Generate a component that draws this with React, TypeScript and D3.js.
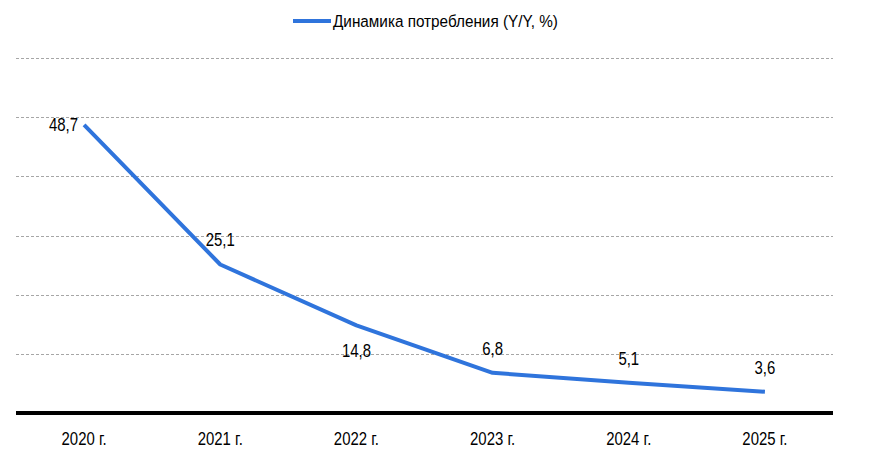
import React, { useEffect, useRef } from 'react';
import * as d3 from 'd3';

const years = ['2020 г.', '2021 г.', '2022 г.', '2023 г.', '2024 г.', '2025 г.'];
const values = [48.7, 25.1, 14.8, 6.8, 5.1, 3.6];
const labelPos = ['left', 'above', 'below', 'above', 'above', 'above'];
const gridTicks = [10, 20, 30, 40, 50, 60];
const seriesName = 'Динамика потребления (Y/Y, %)';

const W = 873;
const H = 457;
const FONT = '"Liberation Sans Narrow", "Arial Narrow", "Liberation Sans", Arial, sans-serif';
const BLUE = '#2f74dc';
const NARROW = 0.83; // no narrow font installed, squeeze horizontally

export default function App() {
  const svgRef = useRef<SVGSVGElement>(null);

  useEffect(() => {
    if (!svgRef.current) return;
    const margin = { top: 58, right: 40, bottom: 44, left: 16 };

    const x = d3.scaleBand<string>().domain(years).range([margin.left, W - margin.right]);
    const y = d3.scaleLinear().domain([0, 60]).range([H - margin.bottom, margin.top]);

    const svg = d3.select(svgRef.current);
    svg.selectAll('*').remove();

    // grid lines
    svg.append('g').selectAll('line')
      .data(gridTicks)
      .join('line')
      .attr('x1', margin.left).attr('x2', W - margin.right)
      .attr('y1', d => Math.round(y(d)) + 0.5).attr('y2', d => Math.round(y(d)) + 0.5)
      .attr('stroke', '#a6a6a6').attr('stroke-width', 1)
      .attr('stroke-dasharray', '3,2');

    // baseline
    svg.append('line')
      .attr('x1', margin.left).attr('x2', W - margin.right)
      .attr('y1', y(0)).attr('y2', y(0))
      .attr('stroke', '#000').attr('stroke-width', 4);

    const narrowText = (g: d3.Selection<SVGGElement, unknown, null, undefined>, px: number, py: number, txt: string, anchor: string, size: number, sx = NARROW) => {
      g.append('text')
        .attr('transform', `translate(${px},${py}) scale(${sx},1)`)
        .attr('text-anchor', anchor)
        .attr('font-family', FONT).attr('font-size', size).attr('fill', '#000')
        .text(txt);
    };

    // category labels
    const cat = svg.append('g');
    years.forEach(d => narrowText(cat, x(d)! + x.bandwidth() / 2, y(0) + 32, d, 'middle', 18));

    const cx = (i: number) => x(years[i])! + x.bandwidth() / 2;

    // line
    const line = d3.line<number>().x((_, i) => cx(i)).y(d => y(d));
    svg.append('path')
      .datum(values)
      .attr('d', line)
      .attr('fill', 'none')
      .attr('stroke', BLUE).attr('stroke-width', 4)
      .attr('stroke-linejoin', 'round');

    // data labels
    const labels = svg.append('g');
    values.forEach((d, i) => {
      const pos = labelPos[i];
      const lx = pos === 'left' ? cx(i) - 6 : cx(i);
      const ly = pos === 'left' ? y(d) + 6 : pos === 'below' ? y(d) + 32 : y(d) - 18;
      narrowText(labels, lx, ly, d.toFixed(1).replace('.', ','), pos === 'left' ? 'end' : 'middle', 18);
    });

    // legend
    const legend = svg.append('g').attr('transform', 'translate(293,21)');
    legend.append('line')
      .attr('x1', 0).attr('x2', 38).attr('y1', 0).attr('y2', 0)
      .attr('stroke', BLUE).attr('stroke-width', 4);
    narrowText(legend, 40, 6, seriesName, 'start', 17, 0.9);
  }, []);

  return (
    <div style={{ width: W, height: H, margin: -8, background: '#fff' }}>
      <svg ref={svgRef} width={W} height={H} style={{ display: 'block' }} />
    </div>
  );
}
